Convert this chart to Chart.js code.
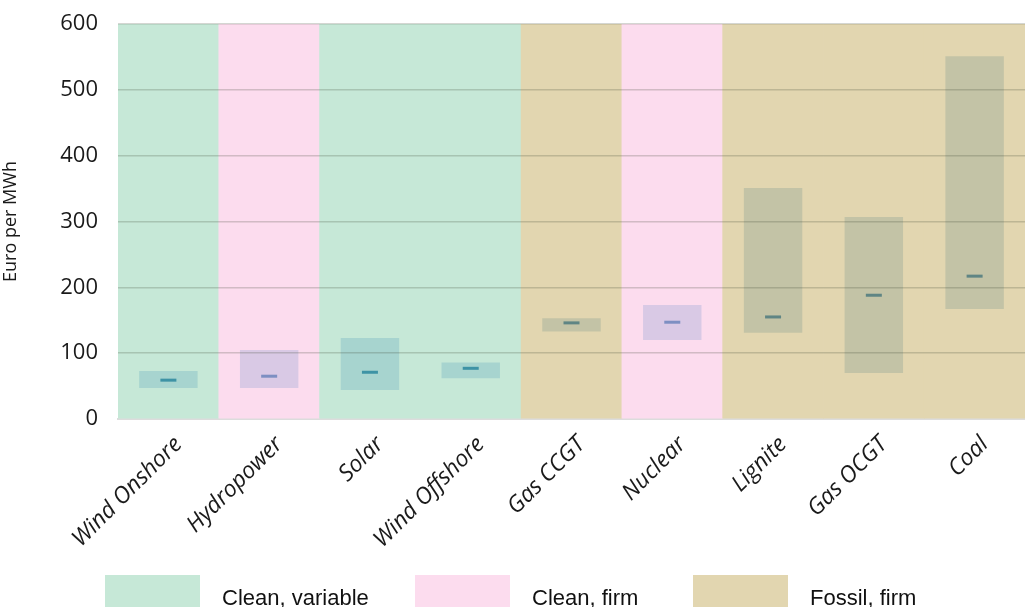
<!DOCTYPE html>
<html>
<head>
<meta charset="utf-8">
<script src="https://cdn.jsdelivr.net/npm/chart.js@4"></script>
<style>
  html, body { margin: 0; padding: 0; background: #fff; overflow: hidden; }
  #wrap { width: 1025px; height: 607px; }
</style>
</head>
<body>
<div id="wrap"><canvas id="costChart"></canvas></div>
<script>
/* DATA */
const categories = ['Wind Onshore','Hydropower','Solar','Wind Offshore','Gas CCGT','Nuclear','Lignite','Gas OCGT','Coal'];
const groups     = ['variable','firm','variable','variable','fossil','firm','fossil','fossil','fossil'];
const lowCost    = [47, 47, 44, 62, 133, 120, 131, 70, 167];
const highCost   = [73, 105, 123, 86, 153, 173, 351, 307, 551];
const midCost    = [59, 65, 71, 77, 146, 147, 155, 188, 217];
const yTicks     = [0, 100, 200, 300, 400, 500, 600];
const legendNames = { variable: 'Clean, variable', firm: 'Clean, firm', fossil: 'Fossil, firm' };

/* COLOURS */
const bandColor  = { variable: '#c6e8d7', firm: '#fcdcee', fossil: '#e2d6b0' };
const rangeColor = { variable: '#a7d4cf', firm: '#d9c9e5', fossil: '#c3c3a6' };
const midColor   = { variable: '#3e93a5', firm: '#7d8fc2', fossil: '#5f8584' };

const yMax = yTicks[yTicks.length - 1];

/* legend drawn under the axis labels */
const bottomLegend = {
  id: 'bottomLegend',
  afterDraw(chart) {
    const c = chart.ctx;
    const keys = ['variable', 'firm', 'fossil'];
    const xs = [105, 415, 693];
    c.save();
    c.font = '22px "Liberation Sans", Arial, sans-serif';
    c.textBaseline = 'alphabetic';
    keys.forEach((k, i) => {
      c.fillStyle = bandColor[k];
      c.fillRect(xs[i], 575, 95, 34);
      c.fillStyle = '#111';
      c.fillText(legendNames[k], xs[i] + 117, 605);
    });
    c.restore();
  }
};

const ctx1 = document.getElementById('costChart');

new Chart(ctx1, {
  data: {
    labels: categories,
    datasets: [
      {
        type: 'line',
        label: 'Mittel',
        data: midCost,
        showLine: false,
        pointStyle: 'line',
        pointRadius: 8,
        pointHoverRadius: 8,
        pointBorderWidth: 3,
        pointBorderColor: groups.map(g => midColor[g]),
        order: 1
      },
      {
        type: 'bar',
        label: 'Spanne',
        data: categories.map((c, i) => [lowCost[i], highCost[i]]),
        backgroundColor: groups.map(g => rangeColor[g]),
        barPercentage: 0.58,
        categoryPercentage: 1,
        grouped: false,
        order: 2
      },
      {
        type: 'bar',
        label: 'Gruppe',
        data: categories.map(() => [0, yMax]),
        backgroundColor: groups.map(g => bandColor[g]),
        barPercentage: 1,
        categoryPercentage: 1,
        grouped: false,
        order: 3
      }
    ]
  },
  options: {
    responsive: true,
    maintainAspectRatio: false,
    animation: false,
    layout: { autoPadding: false, padding: { top: 24, right: 0, bottom: 53, left: 0 } },
    plugins: {
      legend: { display: false },
      tooltip: { enabled: false }
    },
    scales: {
      x: {
        grid: { display: false },
        border: { display: true, color: '#dcdcdc', width: 2 },
        ticks: {
          autoSkip: false,
          minRotation: 45,
          maxRotation: 45,
          padding: 4,
          labelOffset: 10,
          color: '#1a1a1a',
          font: { family: '"Open Sans", sans-serif', size: 23, style: 'italic' }
        },
        afterFit(scale) { scale.height = 135; }
      },
      y: {
        min: 0,
        max: yMax,
        afterBuildTicks(scale) { scale.ticks = yTicks.map(v => ({ value: v })); },
        border: { display: false },
        grid: {
          z: 1,
          drawTicks: false,
          lineWidth: 1.5,
          color: c => c.tick && c.tick.value === 0 ? 'rgba(0,0,0,0)' : 'rgba(60,70,50,0.22)'
        },
        ticks: {
          padding: 20,
          color: '#1a1a1a',
          font: { family: '"Open Sans", sans-serif', size: 22 }
        },
        title: {
          display: true,
          text: 'Euro per MWh',
          color: '#1a1a1a',
          padding: { top: 0, bottom: 4 },
          font: { family: '"Open Sans", sans-serif', size: 18 }
        },
        afterFit(scale) {
          scale.width = 118;
          scale.paddingTop = 0;
          scale.paddingBottom = 0;
        }
      }
    }
  },
  plugins: [bottomLegend]
});
</script>
</body>
</html>
